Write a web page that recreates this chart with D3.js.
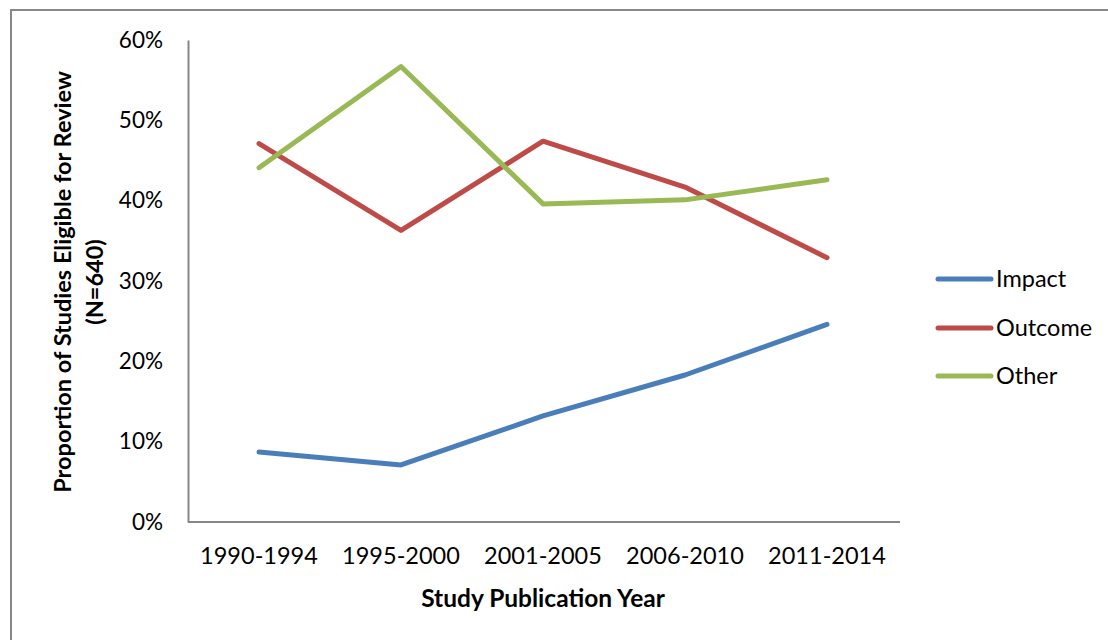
<!DOCTYPE html>
<html><head><meta charset="utf-8">
<script src="https://cdn.jsdelivr.net/npm/d3@7"></script>
<style>body{margin:0;background:#fff}svg{display:block}text{font-family:Lato,"Open Sans",sans-serif;fill:#000}</style>
</head><body><svg id="c" width="1108" height="640"></svg>
<script>
const categories = ["1990-1994","1995-2000","2001-2005","2006-2010","2011-2014"];
const impact  = [0.087, 0.071, 0.132, 0.183, 0.246];
const outcome = [0.471, 0.363, 0.474, 0.417, 0.329];
const other   = [0.441, 0.567, 0.396, 0.401, 0.426];
const seriesNames = ["Impact","Outcome","Other"];
const seriesColors = ["#4a7ebb","#be4b48","#98b954"];
const yTicks = [0,0.1,0.2,0.3,0.4,0.5,0.6];
const series = [impact, outcome, other];

const svg = d3.select("#c");
svg.append("rect").attr("x",11).attr("y",10).attr("width",1120).attr("height",650)
  .attr("fill","none").attr("stroke","#888").attr("stroke-width",2);

const x = d3.scalePoint().domain(categories).range([259,827]);
const xBand = d3.scaleBand().domain(categories).range([188,898]);
const y = d3.scaleLinear().domain([0,0.6]).range([522,40]);

// y axis
const ya = svg.append("g").attr("transform","translate(188,0)")
  .call(d3.axisLeft(y).tickValues(yTicks).tickFormat(d3.format(".0%")).tickSize(0).tickPadding(25));
ya.select(".domain").attr("stroke","#868686").attr("stroke-width",2);
ya.selectAll("text").style("font-size","22.5px").style("font-family","Lato");

// x axis
const xa = svg.append("g").attr("transform","translate(0,522)")
  .call(d3.axisBottom(xBand).tickSize(0).tickPadding(25));
xa.select(".domain").attr("stroke","#868686").attr("stroke-width",2).attr("d","M188,0H900");
xa.selectAll("text").style("font-size","23.5px").style("font-family","Lato");

// lines
const line = d3.line().x((d,i)=>x(categories[i])).y(d=>y(d));
series.forEach((s,k)=>{
  svg.append("path").datum(s).attr("d",line).attr("fill","none")
    .attr("stroke",seriesColors[k]).attr("stroke-width",5)
    .attr("stroke-linecap","round").attr("stroke-linejoin","round");
});

// legend
const ly = [279,328,376];
seriesNames.forEach((n,k)=>{
  svg.append("line").attr("x1",938).attr("x2",991).attr("y1",ly[k]).attr("y2",ly[k])
    .attr("stroke",seriesColors[k]).attr("stroke-width",5).attr("stroke-linecap","round");
  svg.append("text").attr("x",996).attr("y",ly[k]).attr("dy","0.35em")
    .style("font-size","23.5px").text(n);
});

// titles
svg.append("text").attr("x",543).attr("y",607).attr("text-anchor","middle")
  .style("font-size","24.5px").style("font-weight","bold").text("Study Publication Year");
const yt = svg.append("text").attr("transform","translate(0,282) rotate(-90)")
  .attr("text-anchor","middle").style("font-size","23.5px").style("font-weight","bold");
yt.append("tspan").attr("x",0).attr("y",71).text("Proportion of Studies Eligible for Review");
yt.append("tspan").attr("x",0).attr("y",103).text("(N=640)");
</script></body></html>
